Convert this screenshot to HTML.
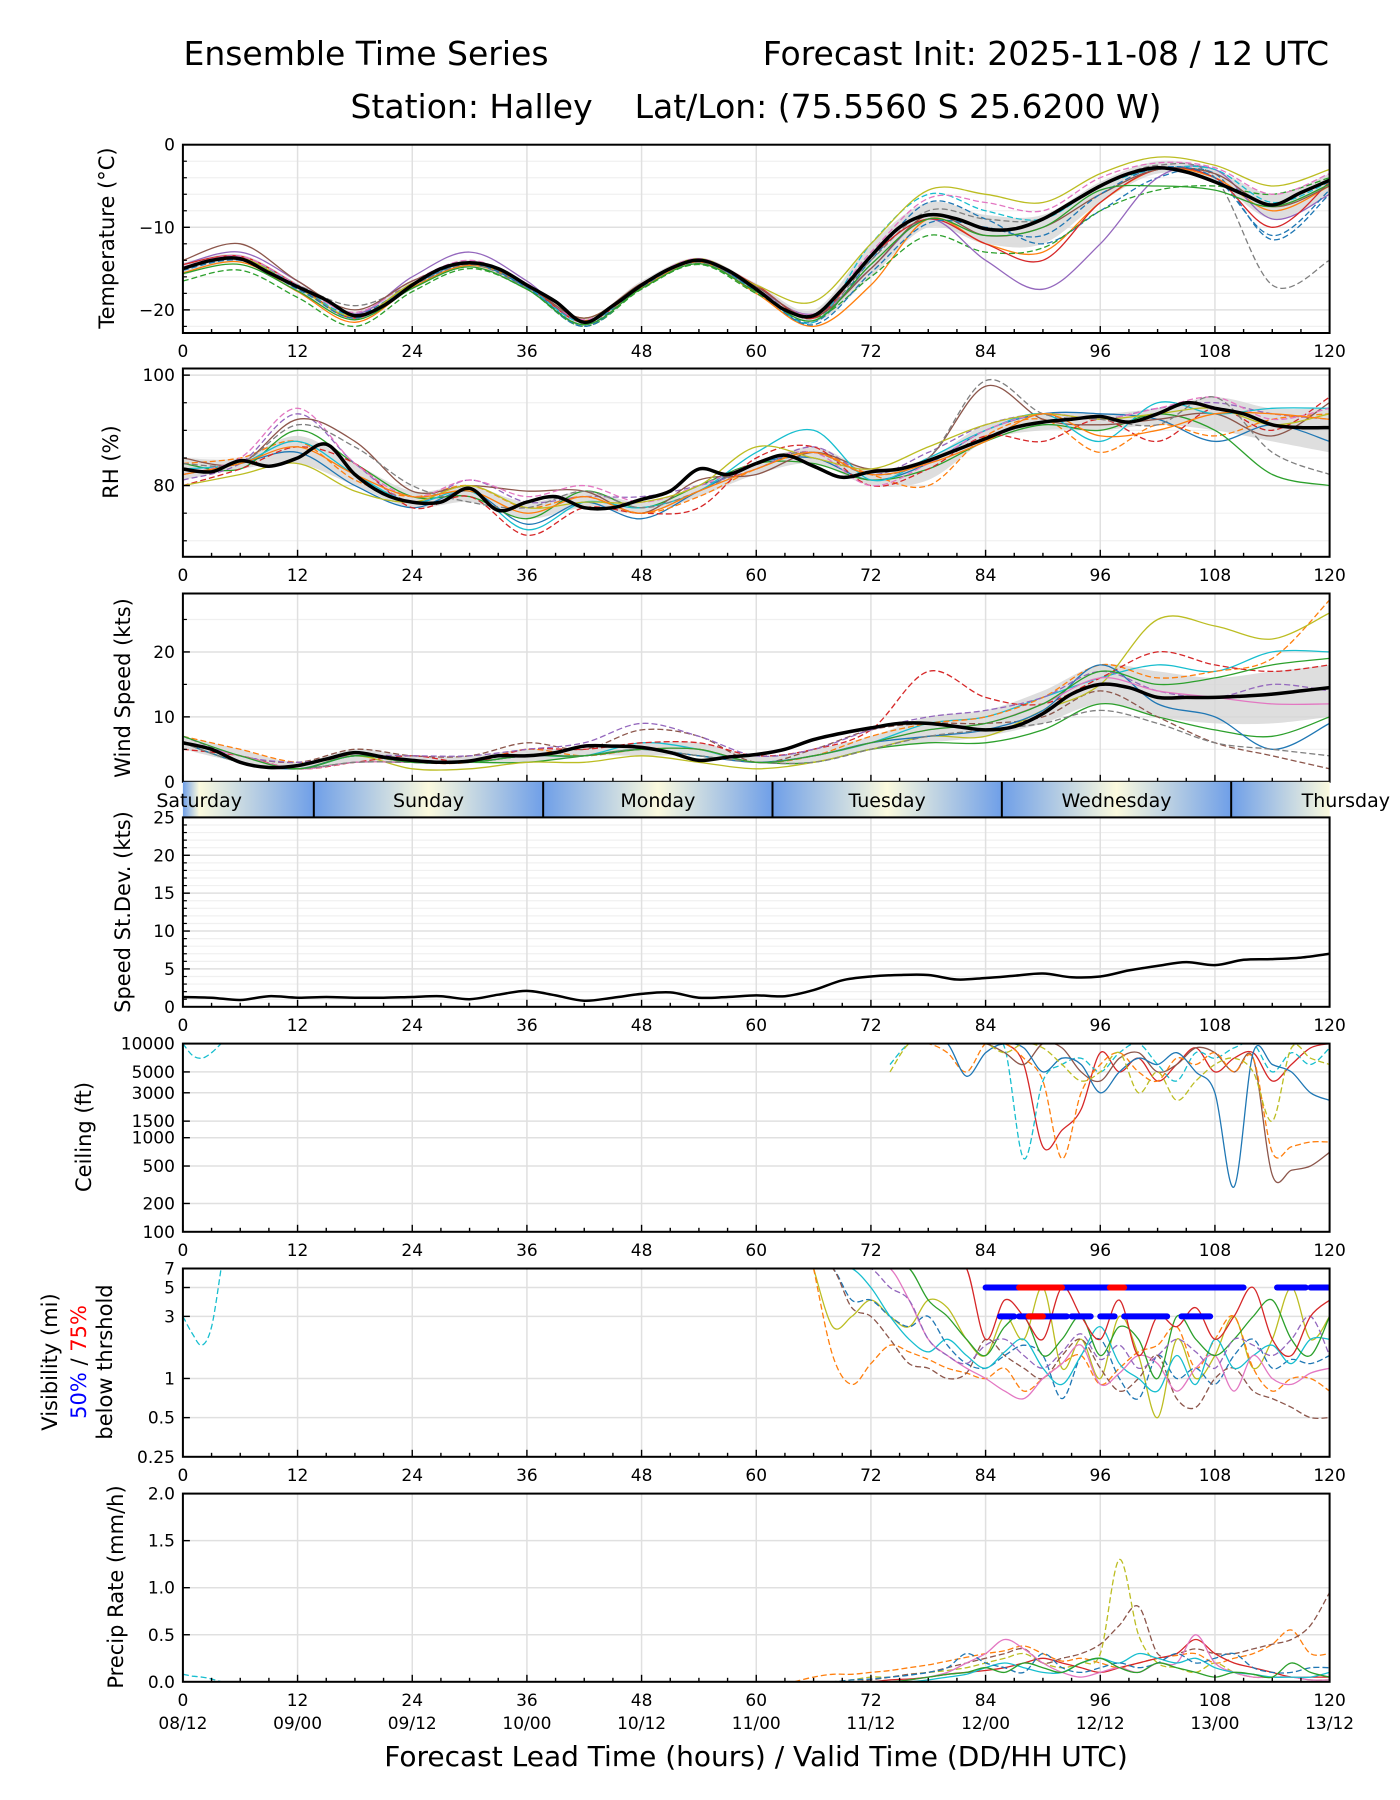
<!DOCTYPE html>
<html><head><meta charset="utf-8">
<style>
html,body{margin:0;padding:0;background:#fff;}
svg{display:block;font-family:"DejaVu Sans","Liberation Sans",sans-serif;}
</style></head>
<body>
<svg id="chart" width="1400" height="1800" viewBox="0 0 1400 1800" xmlns="http://www.w3.org/2000/svg">
<rect x="0" y="0" width="1400" height="1800" fill="#fff"/>
<text x="366" y="65" font-size="33" text-anchor="middle">Ensemble Time Series</text>
<text x="1329" y="65" font-size="33" text-anchor="end">Forecast Init: 2025-11-08 / 12 UTC</text>
<text x="756" y="118" font-size="33" text-anchor="middle" xml:space="preserve">Station: Halley    Lat/Lon: (75.5560 S 25.6200 W)</text>
<text x="756" y="1766" font-size="28" text-anchor="middle">Forecast Lead Time (hours) / Valid Time (DD/HH UTC)</text>
<g id="root"></g>
</svg>
<script>
// ---------- data ----------
const hours6 = [0,6,12,18,24,30,36,42,48,54,60,66,72,78,84,90,96,102,108,114,120];
const hours3 = [0,3,6,9,12,15,18,21,24,27,30,33,36,39,42,45,48,51,54,57,60,63,66,69,72,75,78,81,84,87,90,93,96,99,102,105,108,111,114,117,120];
const tempMean = [-15,-14,-13.8,-15.5,-17.2,-18.8,-20.7,-19.5,-17,-15,-14.3,-15,-17,-19,-21.5,-19.5,-17,-15,-14,-15.2,-17.5,-20,-20.7,-17.5,-13.5,-10,-8.5,-9,-10.2,-10.2,-9,-7,-5,-3.5,-2.8,-3.3,-4.5,-6,-7.3,-5.8,-4.3];
const tempLo = [-15.8,-14.3,-17.8,-21.2,-17.5,-14.8,-17.6,-22,-17.5,-14.5,-17.8,-21.5,-16,-10,-12,-12,-7,-3.5,-4.5,-9,-6];
const tempHi = [-14.3,-13.3,-16.8,-20.2,-16.5,-14,-16.8,-21,-16.5,-13.7,-16.8,-20,-12,-7,-8.5,-8.5,-4.5,-2,-3,-6,-3.5];
const tempM1 = [-15,-13.8,-17.5,-20.5,-17,-14.5,-17.2,-21.8,-17,-14,-17.6,-21.5,-14,-7,-9,-12,-8,-4,-3.5,-11.5,-6];
const tempM2 = [-15.5,-14.2,-17.8,-21.5,-17.3,-14.6,-17,-21.3,-17.3,-14.2,-18,-22,-17,-9,-12,-13,-7,-3,-4,-8,-5];
const tempM3 = [-16.5,-15.2,-18.5,-22,-17.8,-15,-17.5,-22,-17.5,-14.5,-18,-21,-16,-11,-13,-12.5,-8,-5.5,-5,-6,-4];
const tempM4 = [-14.5,-13,-16.5,-20.5,-16,-13,-16.5,-21.5,-16.8,-14,-17.5,-20.5,-15,-9,-14,-17.5,-12,-4,-3,-9,-6];
const tempM5 = [-15,-14,-17,-19.5,-17,-14.5,-17.3,-21,-17,-14.3,-17.5,-21,-14,-8,-9,-9,-5,-2.5,-4,-17,-14];
const tempM6 = [-14.5,-13.5,-17,-21,-16.8,-14.3,-17,-21.5,-17,-14,-17,-21,-13.5,-9,-12,-14,-7,-3,-4,-10,-4.5];
const tempM7 = [-15,-13.8,-17,-20.8,-17,-14.2,-17.2,-21.5,-17,-14,-17.5,-21.5,-12,-6,-8,-9,-5,-3,-3,-7,-4.5];
const tempM8 = [-15,-13.7,-17.3,-20.8,-16.8,-14.3,-17,-21,-16.8,-13.8,-17,-19,-12,-5.5,-6,-7,-3.5,-1.5,-2.5,-5,-3];
const tempM9 = [-14.8,-13.5,-17,-20.3,-16.5,-14,-16.8,-21.2,-16.8,-13.8,-17.2,-20.5,-13,-6.5,-7,-8,-4,-2.2,-2.8,-6,-3.5];
const tempM10 = [-14,-12,-16.5,-20,-16.5,-14.2,-17,-21,-16.8,-14,-17.2,-20.8,-15,-8.5,-11,-10,-6,-3,-3.5,-7.5,-5];
const tempM11 = [-15.2,-14,-17.3,-21,-17,-14.4,-17.3,-22,-17.2,-14.1,-17.7,-21.8,-15.5,-9.5,-10,-11,-6,-2.8,-4,-11,-5.5];
const tempM12 = [-15.6,-14.5,-17.7,-21.2,-17.4,-14.8,-17.5,-21.8,-17.4,-14.4,-17.8,-21.3,-14.5,-9,-11,-10,-5.5,-5,-5.5,-7.5,-4.8];

const rhMean = [83,82.5,84.5,83.5,85,87.5,82,78.5,77,77,79.5,75.5,77,78,76,76,77.5,79,83,82,84,85.5,83.5,81.5,82.5,83,84.5,86.5,88.5,90.5,91.5,92,92.5,91.5,93,95,94,93,91,90.5,90.5];
const rhLo = [81,83,84,80,76,77,74,76,75,78,82,84,80,81,88,90,90,91,90,88,86];
const rhHi = [85,85,89,84,79,80,77,79,77,80,84,87,83,85,91,93,93,94,96,94,94];
const rhM1 = [82,84,86,80,76,79,73,77,74,79,84,85,81,84,90,93,93,92,88,91,88];
const rhM2 = [84,85,88,81,78,80,76,78,75,78,83,86,82,80,89,92,86,91,89,92,93];
const rhM3 = [84,83,90,84,78,78,74,79,76,80,84,84,81,83,88,91,90,93,90,82,80];
const rhM4 = [81,84,93,84,77,81,77,78,78,80,83,87,82,86,91,93,92,94,95,93,92];
const rhM5 = [85,84,92,88,79,80,79,79,75,81,82,86,83,85,98,92,91,92,93,89,95];
const rhM6 = [80,83,87,84,76,78,71,76,75,76,85,87,80,83,89,88,92,88,94,90,96];
const rhM7 = [83,84,88,82,77,79,72,77,76,79,86,90,81,85,90,93,88,95,93,94,94];
const rhM8 = [82,85,94,84,78,81,78,80,77,80,84,86,80,84,90,93,92,94,96,92,94];
const rhM9 = [80,82,84,79,77,80,76,77,77,80,87,85,83,87,91,93,92,93,94,91,93];
const rhM10 = [84,84,91,87,80,77,76,79,76,79,84,86,82,85,99,93,92,91,96,86,82];
const rhM11 = [82,84,87,82,78,79,75,78,75,79,83,86,82,84,88,93,89,90,93,93,92];

const windMean = [6,5,3,2.2,2.5,3.5,4.5,3.8,3.3,3,3.2,4,4,4.5,5.5,5.5,5.3,4.5,3.3,3.8,4.2,5,6.5,7.5,8.3,9,9,8.5,8,8.5,10.5,13.5,15,14.5,13,13,13,13.2,13.5,14,14.5];
const windLo = [5,3,2,3,3,3,3,4,4,4,3,3,5,6,7,9,12,10,9,9,10];
const windHi = [7,5,3,5,4,4,5,5,6,6,4,5,7,10,11,14,18,17,16,17,18];
const windM1 = [6,4,2,4,3,3,4,4,6,5,3,4,6,9,10,13,16,18,17,20,20];
const windM2 = [7,5,3,4,3,3,5,4,5,5,3,4,7,9,10,13,18,16,17,19,28];
const windM3 = [6,3,2,3,3,3,3,4,5,4,3,3,5,6,6,8,12,10,8,7,10];
const windM4 = [7,4,3,5,4,4,6,5,8,7,3,5,8,9,9,10,14,10,6,4,2];
const windM5 = [6,3,2,4,2,2,3,3,4,3,2,3,5,7,7,11,15,25,24,22,26];
const windM6 = [5,4,2,3,4,3,5,5,6,6,4,5,8,17,13,12,16,20,18,17,18];
const windM7 = [6,3,2,4,3,3,4,4,5,4,3,4,6,7,8,11,18,12,10,5,9];
const windM8 = [7,4,3,4,4,4,5,6,9,7,4,5,8,10,11,13,17,14,13,15,14];
const windM9 = [6,4,2,3,3,3,4,4,5,5,3,4,6,8,9,12,16,14,13,12,12];
const windM10 = [6,3,2,3,3,3,4,4,5,4,3,3,5,7,8,9,11,9,6,5,4];
const windM11 = [7,4,2,4,3,3,4,4,5,5,3,4,6,8,9,12,17,15,16,18,19];

const sdMean = [1.3,1.2,0.9,1.4,1.2,1.3,1.2,1.2,1.3,1.4,1,1.6,2.1,1.5,0.8,1.2,1.7,1.9,1.2,1.3,1.5,1.4,2.2,3.5,4,4.2,4.2,3.6,3.8,4.1,4.4,3.9,4,4.8,5.4,5.9,5.5,6.2,6.3,6.5,7];

const ceilHours = [74,76,78,80,82,84,86,88,90,92,94,96,98,100,102,104,106,108,110,112,114,116,118,120];
const ceilM1 = [10000,10000,10000,10000,10000,10000,10000,6000,800,1200,2000,8000,5000,7000,4000,6000,9000,5000,7000,8000,4000,6000,9000,10000];
const ceilM2 = [6000,10000,10000,10000,10000,10000,9000,600,4000,6000,7000,5000,8000,10000,6000,4000,8000,7000,9000,10000,5000,8000,6000,9000];
const ceilM3 = [10000,10000,10000,10000,10000,10000,8000,6000,10000,9000,5000,4000,7000,8000,5000,6000,9000,8000,5000,7000,400,450,500,700];
const ceilM4 = [10000,10000,10000,8000,5000,10000,10000,7000,4000,600,3000,6000,8000,5000,4000,7000,6000,8000,5000,7000,700,800,900,900];
const ceilM5 = [10000,10000,10000,10000,4500,8000,10000,9000,5000,7000,6000,3000,5000,7000,6000,8000,5000,3000,300,8000,6000,5000,3000,2500];
const ceilM6 = [5000,10000,10000,10000,10000,10000,8000,10000,9000,6000,4000,5000,8000,3000,5000,2500,4000,6000,7000,5000,1500,9000,7000,6000];
const ceilEarlyHours = [0,1,2,3,4];
const ceilEarly = [10000,7500,7000,8000,10000];

const visHours = [66,68,70,72,74,76,78,80,82,84,86,88,90,92,94,96,98,100,102,104,106,108,110,112,114,116,118,120];
const visM1 = [7,2.5,3,4,3,2.5,4,3.5,2,1.5,3,2,5,1.2,2,1,3,1.5,0.5,2,1,1.5,3,1.2,2,5,2,3];
const visM2 = [7,1.5,0.9,1.3,1.8,1.6,1.4,1.2,1.1,1.0,1.2,0.8,1.0,1.3,1.5,0.9,1.2,1.6,1.8,2.5,1.2,2,3,1.2,0.8,1,1,0.8];
const visM3 = [7,7,4,4,3,2.5,3,1.8,1.3,1.2,1.5,1.8,1.5,0.7,1.5,2,1,0.7,1.5,1,1.2,0.9,1.5,2,1.2,1.4,1.3,1.5];
const visM4 = [7,7,3.5,3,2,1.3,1.2,1.0,1.1,2,1.5,1.2,1,1.5,2,1.2,0.8,1,1.5,0.7,0.6,1,1.2,0.8,0.7,0.6,0.5,0.5];
const visM5 = [7,7,7,5,3,2,1.6,2,1.5,1.2,1.6,2,1.2,0.9,1.5,2.5,1.3,1,0.8,1.5,0.9,2,1.2,1.5,1.8,1.3,2,2];
const visM6 = [7,7,7,7,7,4,2,1.5,1.2,1,0.8,0.7,1,1.3,1.8,0.9,1.1,1.5,1.3,0.8,1.2,1.5,0.8,1.5,1,0.9,1.1,1.2];
const visM7 = [7,7,7,7,7,7,4,3,2,1.5,2.5,3,1.5,2,3,1.5,2.5,2,1,3,2,1.5,2,3,4,2,1.5,3];
const visM8 = [7,7,7,7,5,4,2,1.5,1.3,1.8,2,1.5,1.2,1.6,2.2,1.4,1.8,1.2,1.5,2,1.6,1.2,2,1.8,1.5,2,3,1.5];
const visM9 = [7,7,7,7,7,7,7,7,7,2,4,3,2,5,3,2,4,1.5,3,2.5,3.5,2,3,5,2,1.5,3,4];
const visEarlyHours = [0,1,2,3,4];
const visEarly = [3,2.2,1.8,2.5,7];
const vis50Segs = [[84,111],[114.5,117.5],[118,120]];
const vis75Segs = [[87.5,92],[97,98.5]];
const vis50Segs3 = [[85.5,87],[87.5,92.5],[93,95],[96,97.5],[98.5,103],[104.5,107.5]];
const vis75Segs3 = [[88.5,90]];

const precipHours = [64,66,68,70,72,74,76,78,80,82,84,86,88,90,92,94,96,98,100,102,104,106,108,110,112,114,116,118,120];
const precipM1 = [0,0.05,0.08,0.08,0.1,0.12,0.15,0.18,0.22,0.26,0.3,0.33,0.38,0.3,0.22,0.25,0.2,0.15,0.2,0.25,0.28,0.3,0.2,0.25,0.3,0.4,0.55,0.3,0.3];
const precipM2 = [0,0,0,0.02,0.05,0.05,0.08,0.1,0.12,0.15,0.2,0.25,0.3,0.2,0.15,0.2,0.3,1.3,0.5,0.2,0.15,0.1,0.2,0.1,0.05,0.05,0.05,0.02,0.02];
const precipM3 = [0,0,0,0,0.02,0.05,0.08,0.1,0.15,0.2,0.25,0.3,0.35,0.2,0.25,0.3,0.4,0.6,0.8,0.3,0.3,0.35,0.3,0.3,0.35,0.4,0.45,0.6,0.95];
const precipM4 = [0,0,0,0,0,0.02,0.03,0.05,0.08,0.1,0.12,0.15,0.2,0.25,0.2,0.15,0.1,0.15,0.2,0.25,0.3,0.45,0.3,0.2,0.15,0.1,0.05,0.05,0.05];
const precipM5 = [0,0,0,0,0,0,0.02,0.05,0.1,0.2,0.3,0.45,0.35,0.2,0.1,0.05,0.1,0.15,0.1,0.2,0.2,0.5,0.2,0.1,0.05,0.05,0.05,0.02,0.02];
const precipM6 = [0,0,0,0,0,0,0,0.02,0.05,0.08,0.15,0.2,0.15,0.1,0.1,0.2,0.25,0.2,0.3,0.25,0.2,0.25,0.15,0.1,0.08,0.05,0.05,0.05,0.1];
const precipM7 = [0,0,0,0.02,0.03,0.05,0.07,0.1,0.15,0.3,0.2,0.15,0.1,0.3,0.15,0.1,0.15,0.2,0.15,0.2,0.3,0.2,0.25,0.3,0.15,0.1,0.1,0.15,0.15];
const precipM8 = [0,0,0,0,0,0,0.02,0.05,0.08,0.1,0.15,0.1,0.2,0.15,0.1,0.2,0.25,0.15,0.1,0.2,0.15,0.1,0.05,0.1,0.08,0.05,0.2,0.1,0.05];
const precipEarlyHours = [0,1,2,3,4];
const precipEarly = [0.08,0.06,0.05,0.03,0];

const xTicks = [0,12,24,36,48,60,72,84,96,108,120];
const dateLabels = ["08/12","09/00","09/12","10/00","10/12","11/00","11/12","12/00","12/12","13/00","13/12"];
const dayNames = ["Saturday","Sunday","Monday","Tuesday","Wednesday","Thursday"];
const dayBoundaries = [13.7,37.7,61.7,85.7,109.7];

// ---------- layout ----------
const NS = "http://www.w3.org/2000/svg";
const root = document.getElementById('root');
const XL = 182.9, XR = 1329.6;
function X(h){ return XL + h/120*(XR-XL); }
const C = ['#1f77b4','#ff7f0e','#2ca02c','#d62728','#9467bd','#8c564b','#e377c2','#7f7f7f','#bcbd22','#17becf'];

function el(tag, attrs, parent){
  const e = document.createElementNS(NS, tag);
  for (const k in attrs) e.setAttribute(k, attrs[k]);
  (parent||root).appendChild(e);
  return e;
}
function smoothPath(pts){
  if (pts.length<2) return '';
  let d = 'M'+pts[0][0].toFixed(1)+','+pts[0][1].toFixed(1);
  for (let i=0;i<pts.length-1;i++){
    const p0=pts[Math.max(0,i-1)], p1=pts[i], p2=pts[i+1], p3=pts[Math.min(pts.length-1,i+2)];
    const c1x=p1[0]+(p2[0]-p0[0])/6, c1y=p1[1]+(p2[1]-p0[1])/6;
    const c2x=p2[0]-(p3[0]-p1[0])/6, c2y=p2[1]-(p3[1]-p1[1])/6;
    d+=' C'+c1x.toFixed(1)+','+c1y.toFixed(1)+' '+c2x.toFixed(1)+','+c2y.toFixed(1)+' '+p2[0].toFixed(1)+','+p2[1].toFixed(1);
  }
  return d;
}

let clipId = 0;
function makePanel(name, top, bot, yScale, yTicks, yTickLabels, minorGrid, showXLabels){
  const g = el('g', {});
  
  
  clipId++;
  const cp = el('clipPath', {id:'clip'+clipId}, g);
  el('rect', {x:XL, y:top, width:XR-XL, height:bot-top}, cp);
  minorGrid.forEach(v=>{
    const y = yScale(v);
    const ln = el('line', {x1:XL, x2:XR, y1:y, y2:y, stroke:'#f0f0f0', 'stroke-width':1.2}, g);
    
    
  });
  xTicks.forEach(h=>{
    const ln = el('line', {x1:X(h), x2:X(h), y1:top, y2:bot, stroke:'#e0e0e0', 'stroke-width':1.5}, g);
    
    
  });
  yTicks.forEach(v=>{
    const y = yScale(v);
    const ln = el('line', {x1:XL, x2:XR, y1:y, y2:y, stroke:'#e0e0e0', 'stroke-width':1.5}, g);
    
    
  });
  const content = el('g', {'clip-path':'url(#clip'+clipId+')'}, g);
  
  
  const axes = el('g', {}, g);
  for (let h=0; h<=120; h+=3){
    const major = h%12===0;
    const len = major?7:4;
    const t = el('line', {x1:X(h), x2:X(h), y1:bot, y2:bot-len, stroke:'#000', 'stroke-width':1.4}, axes);
    
    
  }
  yTicks.forEach((v,i)=>{
    const y = yScale(v);
    const t = el('line', {x1:XL, x2:XL+7, y1:y, y2:y, stroke:'#000', 'stroke-width':1.4}, axes);
    
    
    const tx = el('text', {x:XL-8, y:y+6, 'font-size':17, 'text-anchor':'end'}, axes);
    tx.textContent = yTickLabels[i];
    
    
  });
  minorGrid.forEach(v=>{
    const y = yScale(v);
    const t = el('line', {x1:XL, x2:XL+4, y1:y, y2:y, stroke:'#000', 'stroke-width':1.2}, axes);
    
    
  });
  const fr = el('rect', {x:XL, y:top, width:XR-XL, height:bot-top, fill:'none', stroke:'#000', 'stroke-width':2}, axes);
  
  
  if (showXLabels){
    xTicks.forEach(h=>{
      const tx = el('text', {x:X(h), y:bot+24, 'font-size':17, 'text-anchor':'middle'}, axes);
      tx.textContent = String(h);
      
      
    });
  }
  return content;
}
function line(parent, hrs, vals, yScale, color, width, dashed, name){
  const pts = [];
  for (let i=0;i<Math.min(hrs.length, vals.length);i++) pts.push([X(hrs[i]), yScale(vals[i])]);
  const p = el('path', {d:smoothPath(pts), fill:'none', stroke:color, 'stroke-width':width, 'stroke-linejoin':'round'}, parent);
  if (dashed) p.setAttribute('stroke-dasharray','6,3');
  
  
  return p;
}
function band(parent, hrs, lo, hi, yScale, name){
  const up = [], dn = [];
  for (let i=0;i<hrs.length;i++){ up.push([X(hrs[i]), yScale(hi[i])]); dn.push([X(hrs[i]), yScale(lo[i])]); }
  dn.reverse();
  const d = smoothPath(up) + ' L' + smoothPath(dn).slice(1) + ' Z';
  const p = el('path', {d:d, fill:'#d6d6d6', 'fill-opacity':0.8, stroke:'none'}, parent);
  
  
}
function yLabel(x, cy, text, name){
  const t = el('text', {x:0, y:0, 'font-size':21, 'text-anchor':'middle', transform:'translate('+x+','+cy+') rotate(-90)'});
  t.textContent = text;
  
  
  return t;
}
function lin(lo, hi, top, bot){ return v => bot - (v-lo)/(hi-lo)*(bot-top); }
function logS(lo, hi, top, bot){ return v => bot - (Math.log(Math.max(v,1e-6))-Math.log(lo))/(Math.log(hi)-Math.log(lo))*(bot-top); }
function range(a,b,s){ const r=[]; for(let v=a; v<=b+1e-9; v+=s) r.push(+v.toFixed(3)); return r; }

// ---------- Panel 1: temperature ----------
{
  const top=144.7, bot=333, ys=lin(-22.8,0,top,bot);
  const c = makePanel('temperature', top, bot, ys, [0,-10,-20], ['0','\u221210','\u221220'], range(-22,-2,2).filter(v=>v%10!==0), true);
  band(c, hours6, tempLo, tempHi, ys, 'temperature-spread');
  const mem = [tempM1,tempM2,tempM3,tempM4,tempM5,tempM6,tempM7,tempM8,tempM9,tempM10,tempM11,tempM12];
  const cols = [C[0],C[1],C[2],C[4],C[7],C[3],C[9],C[8],C[6],C[5],C[0],C[2]];
  mem.forEach((m,i)=> line(c, hours6, m, ys, cols[i], 1.3, i%2===0, 'temperature-member'));
  line(c, hours3, tempMean, ys, '#000', 3.5, false, 'temperature-mean');
  yLabel(114, 238, 'Temperature (°C)', 'temperature-y-axis-title');
}
// ---------- Panel 2: RH ----------
{
  const top=368.5, bot=556.8, ys=lin(67.1,101.2,top,bot);
  const c = makePanel('rh', top, bot, ys, [100,80], ['100','80'], [70,75,85,90,95], true);
  band(c, hours6, rhLo, rhHi, ys, 'rh-spread');
  const mem = [rhM1,rhM2,rhM3,rhM4,rhM5,rhM6,rhM7,rhM8,rhM9,rhM10,rhM11];
  const cols = [C[0],C[1],C[2],C[4],C[5],C[3],C[9],C[6],C[8],C[7],C[1]];
  mem.forEach((m,i)=> line(c, hours6, m, ys, cols[i], 1.3, i%2===1, 'rh-member'));
  line(c, hours3, rhMean, ys, '#000', 3.5, false, 'rh-mean');
  yLabel(118, 462, 'RH (%)', 'rh-y-axis-title');
}
// ---------- Panel 3: wind ----------
{
  const top=593.5, bot=781.8, ys=lin(0,29,top,bot);
  const c = makePanel('wind', top, bot, ys, [0,10,20], ['0','10','20'], [5,15,25], false);
  band(c, hours6, windLo, windHi, ys, 'wind-spread');
  const mem = [windM1,windM2,windM3,windM4,windM5,windM6,windM7,windM8,windM9,windM10,windM11];
  const cols = [C[9],C[1],C[2],C[5],C[8],C[3],C[0],C[4],C[6],C[7],C[2]];
  mem.forEach((m,i)=> line(c, hours6, m, ys, cols[i], 1.3, i%2===1, 'wind-member'));
  line(c, hours3, windMean, ys, '#000', 3.5, false, 'wind-mean');
  yLabel(130, 688, 'Wind Speed (kts)', 'wind-y-axis-title');
}
// ---------- Day band ----------
{
  const top=781.8, bot=817.4;
  const defs = el('defs', {});
  const grad = el('linearGradient', {id:'dayGrad', gradientUnits:'userSpaceOnUse', x1:XL, x2:XR, y1:0, y2:0}, defs);
  const stops = [];
  [-10.3].concat(dayBoundaries).concat([133.7]).forEach(b=>{ stops.push([b,'#6f9fe8']); stops.push([b+12,'#fbfade']); });
  stops.sort((a,b)=>a[0]-b[0]).forEach(s=>{
    el('stop', {offset:((s[0])/120).toFixed(4), 'stop-color':s[1]}, grad);
  });
  const r = el('rect', {x:XL, y:top, width:XR-XL, height:bot-top, fill:'url(#dayGrad)'});
  
  
  dayBoundaries.forEach(b=>{
    const l = el('line', {x1:X(b), x2:X(b), y1:top, y2:bot, stroke:'#000', 'stroke-width':2});
    
    
  });
  dayNames.forEach((n,i)=>{
    const t = el('text', {x:X(1.7+24*i), y:top+25, 'font-size':19, 'text-anchor':'middle'});
    t.textContent = n;
    
    
  });
}
// ---------- Panel 4: st dev ----------
{
  const top=817.4, bot=1006.8, ys=lin(0,25,top,bot);
  const c = makePanel('speed-stdev', top, bot, ys, [0,5,10,15,20,25], ['0','5','10','15','20','25'], range(1,24,1).filter(v=>v%5!==0), true);
  line(c, hours3, sdMean, ys, '#000', 2.5, false, 'speed-stdev-line');
  yLabel(130, 912, 'Speed St.Dev. (kts)', 'speed-stdev-y-axis-title');
}
// ---------- Panel 5: ceiling ----------
{
  const top=1043.6, bot=1231.8, ys=logS(100,10000,top,bot);
  const t = [100,200,500,1000,1500,3000,5000,10000];
  const c = makePanel('ceiling', top, bot, ys, t, t.map(String), [], true);
  const mem = [ceilM1,ceilM2,ceilM3,ceilM4,ceilM5,ceilM6];
  const cols = [C[3],C[9],C[5],C[1],C[0],C[8]];
  mem.forEach((m,i)=> line(c, ceilHours, m, ys, cols[i], 1.3, i%2===1, 'ceiling-member'));
  line(c, ceilEarlyHours, ceilEarly, ys, C[9], 1.3, true, 'ceiling-early-member');
  yLabel(91, 1137, 'Ceiling (ft)', 'ceiling-y-axis-title');
}
// ---------- Panel 6: visibility ----------
{
  const top=1268.5, bot=1456.8, ys=logS(0.25,7,top,bot);
  const t = [0.25,0.5,1,3,5,7];
  const c = makePanel('visibility', top, bot, ys, t, t.map(String), [], true);
  const mem = [visM1,visM2,visM3,visM4,visM5,visM6,visM7,visM8,visM9];
  const cols = [C[8],C[1],C[0],C[5],C[9],C[6],C[2],C[4],C[3]];
  mem.forEach((m,i)=> line(c, visHours, m, ys, cols[i], 1.3, [1,2,3,7].includes(i), 'visibility-member'));
  line(c, visEarlyHours, visEarly, ys, C[9], 1.3, true, 'visibility-early-member');
  const seg = (arr, v, col, nm)=> arr.forEach(s=>{
    const l = el('line', {x1:X(s[0]), x2:X(s[1]), y1:ys(v), y2:ys(v), stroke:col, 'stroke-width':6, 'stroke-linecap':'round'}, c);
    
    
  });
  seg(vis50Segs, 5, '#0000ff', 'visibility-50pct-5mi');
  seg(vis75Segs, 5, '#ff0000', 'visibility-75pct-5mi');
  seg(vis50Segs3, 3, '#0000ff', 'visibility-50pct-3mi');
  seg(vis75Segs3, 3, '#ff0000', 'visibility-75pct-3mi');
  const lt = el('text', {x:0, y:0, 'font-size':21, 'text-anchor':'middle', transform:'translate(57,1362) rotate(-90)'});
  lt.textContent = 'Visibility (mi)';
  
  
  const lt2 = el('text', {x:0, y:0, 'font-size':21, 'text-anchor':'middle', transform:'translate(86,1362) rotate(-90)'});
  lt2.innerHTML = '<tspan fill="#0000ff">50%</tspan> / <tspan fill="#ff0000">75%</tspan>';
  
  
  const lt3 = el('text', {x:0, y:0, 'font-size':21, 'text-anchor':'middle', transform:'translate(112,1362) rotate(-90)'});
  lt3.textContent = 'below thrshold';
  
  
}
// ---------- Panel 7: precip ----------
{
  const top=1493.6, bot=1681.8, ys=lin(0,2,top,bot);
  const t = [0,0.5,1,1.5,2];
  const c = makePanel('precip', top, bot, ys, t, ['0.0','0.5','1.0','1.5','2.0'], [], true);
  const mem = [precipM1,precipM2,precipM3,precipM4,precipM5,precipM6,precipM7,precipM8];
  const cols = [C[1],C[8],C[5],C[3],C[6],C[9],C[0],C[2]];
  mem.forEach((m,i)=> line(c, precipHours, m, ys, cols[i], 1.3, [0,1,2,6].includes(i), 'precip-member'));
  line(c, precipEarlyHours, precipEarly, ys, C[9], 1.3, true, 'precip-early-member');
  yLabel(123, 1587, 'Precip Rate (mm/h)', 'precip-y-axis-title');
  xTicks.forEach((h,i)=>{
    const tx = el('text', {x:X(h), y:bot+47, 'font-size':17, 'text-anchor':'middle'});
    tx.textContent = dateLabels[i];
    
    
  });
}
</script>
</body></html>
